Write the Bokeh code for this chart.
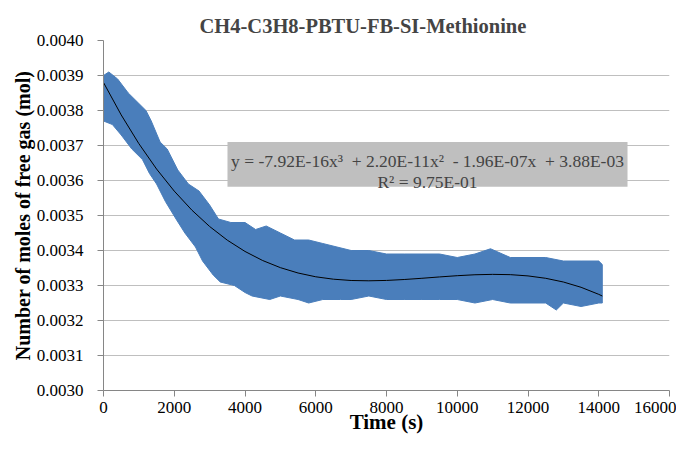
from bokeh.plotting import figure
from bokeh.models import FixedTicker, PrintfTickFormatter, BoxAnnotation, Label
from bokeh.embed import file_html
from bokeh.resources import INLINE

# ---- data ----
upper_t = [0, 150, 400, 700, 1000, 1200, 1350, 1600, 1800, 2100, 2400, 2700, 3000, 3250,
           3600, 4000, 4300, 4600, 5000, 5400, 5800, 6200, 6600, 7000, 7500, 8000, 8500,
           9000, 9500, 10000, 10500, 10940, 11500, 12000, 12500, 13000, 13500, 14000, 14100]
upper_y = [0.00390, 0.00391, 0.00389, 0.00385, 0.00382, 0.00380, 0.00377, 0.00371, 0.00369,
           0.00363, 0.00359, 0.00357, 0.00353, 0.00349, 0.00348, 0.00348, 0.00346, 0.00347,
           0.00345, 0.00343, 0.00343, 0.00342, 0.00341, 0.00340, 0.00340, 0.00339, 0.00339,
           0.00339, 0.00339, 0.00338, 0.00339, 0.003405, 0.00338, 0.00338, 0.00338, 0.00337,
           0.00337, 0.00337, 0.00336]
lower_t = [0, 250, 500, 800, 1100, 1300, 1500, 1750, 2050, 2300, 2600, 2800, 3100, 3300,
           3700, 4000, 4200, 4700, 5000, 5500, 5800, 6200, 6700, 7000, 7500, 8000, 8500,
           9000, 9500, 10000, 10500, 11000, 11500, 12000, 12500, 12800, 13000, 13500, 14000, 14100]
lower_y = [0.00377, 0.00376, 0.00373, 0.00369, 0.00366, 0.00362, 0.00359, 0.00354, 0.00349,
           0.00345, 0.00341, 0.00337, 0.00333, 0.00331, 0.00330, 0.00328, 0.00327, 0.00326,
           0.00327, 0.00326, 0.00325, 0.00326, 0.00326, 0.00326, 0.00327, 0.00326, 0.00326,
           0.00326, 0.00326, 0.00326, 0.00325, 0.00326, 0.00325, 0.00325, 0.00325, 0.00323,
           0.00325, 0.00324, 0.00325, 0.00325]
trend_t = [0, 500, 1000, 1500, 2000, 2500, 3000, 3500, 4000, 4500, 5000, 5500, 6000, 6500,
           7000, 7500, 8000, 8500, 9000, 9500, 10000, 10500, 11000, 11500, 12000, 12500,
           13000, 13500, 14000, 14100]
trend_y = [0.003880, 0.0037874, 0.0037052, 0.0036328, 0.0035697, 0.0035151, 0.0034686,
           0.0034295, 0.0033973, 0.0033713, 0.0033510, 0.0033357, 0.0033249, 0.0033180,
           0.0033143, 0.0033134, 0.0033145, 0.0033171, 0.0033206, 0.0033245, 0.0033280,
           0.0033307, 0.0033318, 0.0033310, 0.0033274, 0.0033206, 0.0033100, 0.0032949,
           0.0032747, 0.0032700]
x_ticks = [0, 2000, 4000, 6000, 8000, 10000, 12000, 14000, 16000]
y_ticks = [0.0030, 0.0031, 0.0032, 0.0033, 0.0034, 0.0035, 0.0036, 0.0037, 0.0038, 0.0039, 0.0040]
title_text = "CH4-C3H8-PBTU-FB-SI-Methionine"
x_label = "Time (s)"
y_label = "Number of moles of free gas (mol)"
eq_line1 = "y = -7.92E-16x\u00b3 \u00a0+ 2.20E-11x\u00b2 \u00a0- 1.96E-07x \u00a0+ 3.88E-03"
eq_line2 = "R\u00b2 = 9.75E-01"

FONT = "Liberation Serif"
BLUE = "#4A7EBB"

p = figure(width=676, height=436, output_backend="svg", toolbar_location=None,
           x_range=(0, 16000), y_range=(0.0030, 0.0040),
           min_border_left=103, min_border_right=7, min_border_top=40, min_border_bottom=41)
p.outline_line_color = None
p.background_fill_color = "white"

# title
p.title.text = title_text
p.title.text_font = FONT
p.title.text_font_size = "20.5px"
p.title.text_font_style = "bold"
p.title.align = "left"
p.title.offset = 96
p.title.standoff = 7

# band
band_x = upper_t + lower_t[::-1]
band_y = upper_y + lower_y[::-1]
p.patch(band_x, band_y, fill_color=BLUE, line_color=BLUE, line_width=1)
p.line(trend_t, trend_y, line_color="black", line_width=1)

# axes
for ax in (p.xaxis[0], p.yaxis[0]):
    ax.axis_line_color = "#868686"
    ax.major_tick_line_color = "#868686"
    ax.minor_tick_line_color = None
    ax.major_tick_in = 0
    ax.major_tick_out = 6
    ax.major_label_text_font = FONT
    ax.major_label_text_font_size = "17px"
    ax.major_label_text_color = "black"
    ax.axis_label_text_font = FONT
    ax.axis_label_text_font_style = "bold"
    ax.axis_label_text_color = "black"
p.xaxis.ticker = FixedTicker(ticks=x_ticks)
p.yaxis.ticker = FixedTicker(ticks=y_ticks)
p.yaxis.formatter = PrintfTickFormatter(format="%.4f")
p.xaxis.major_label_standoff = 5
p.yaxis.major_label_standoff = 14

p.xaxis.axis_label = x_label
p.xaxis.axis_label_text_font_size = "21px"
p.xaxis.axis_label_standoff = -6
p.yaxis.axis_label = y_label
p.yaxis.axis_label_text_font_size = "20px"
p.yaxis.axis_label_standoff = 0

p.xgrid.grid_line_color = None
p.ygrid.grid_line_color = "#BFBFBF"
p.ygrid.grid_line_width = 1

# equation box
p.add_layout(BoxAnnotation(left=3505, right=14813, top=0.003710, bottom=0.003582,
                           fill_color="#BFBFBF", fill_alpha=1.0, line_color=None))
p.add_layout(Label(x=9159, y=0.003656, text=eq_line1, text_font=FONT,
                   text_font_size="17.5px", text_align="center", text_baseline="middle"))
p.add_layout(Label(x=9159, y=0.003597, text=eq_line2, text_font=FONT,
                   text_font_size="17.5px", text_align="center", text_baseline="middle"))

open("out.html", "w").write(file_html(p, INLINE))
